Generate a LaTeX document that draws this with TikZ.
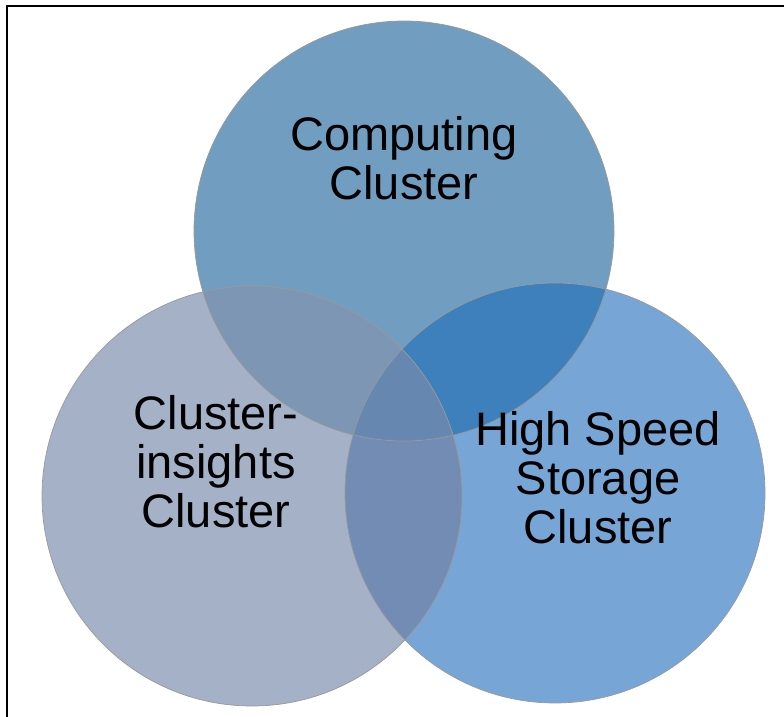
\documentclass[tikz,border=0pt]{standalone}
\usepackage{fontspec}
\setmainfont{Liberation Sans}
\definecolor{compblue}{RGB}{113,158,192}
\definecolor{insgray}{RGB}{164,177,198}
\definecolor{storblue}{RGB}{119,166,214}
\definecolor{compstor}{RGB}{62,128,188}
\definecolor{compins}{RGB}{124,150,180}
\definecolor{insstor}{RGB}{115,140,180}
\definecolor{allthree}{RGB}{102,135,176}

\begin{document}
\begin{tikzpicture}[
        x=1pt, y=-1pt,
        every node/.style={font=\fontsize{47}{49}\selectfont, align=center},
        ring/.style={draw=black!40, line width=0.7pt}
    ]
        \useasboundingbox (0,0) rectangle (784,717);
        \draw[line width=2pt] (7,717) -- (7,6) -- (784,6);

        \coordinate (comp) at (404,231);
        \coordinate (ins) at (252,496);
        \coordinate (stor) at (555,493);
        \def\rad{210}

        % plain discs
        \fill[insgray] (ins) circle[radius=\rad];
        \fill[storblue] (stor) circle[radius=\rad];
        \fill[compblue] (comp) circle[radius=\rad];

        % overlaps
        \begin{scope}
            \clip (comp) circle[radius=\rad];
            \fill[compstor] (stor) circle[radius=\rad];
            \fill[compins] (ins) circle[radius=\rad];
        \end{scope}
        \begin{scope}
            \clip (ins) circle[radius=\rad];
            \fill[insstor] (stor) circle[radius=\rad];
            \clip (comp) circle[radius=\rad];
            \fill[allthree] (stor) circle[radius=\rad];
        \end{scope}

        % outlines
        \draw[ring] (ins) circle[radius=\rad];
        \draw[ring] (comp) circle[radius=\rad];
        \draw[ring] (stor) circle[radius=\rad];

        \node (complabel) at (404,158) {Computing\\Cluster};
        \node (inslabel) at (216,462) {Cluster-\\insights\\Cluster};
        \node (storlabel) at (598,478) {High Speed\\Storage\\Cluster};
    \end{tikzpicture}
\end{document}
